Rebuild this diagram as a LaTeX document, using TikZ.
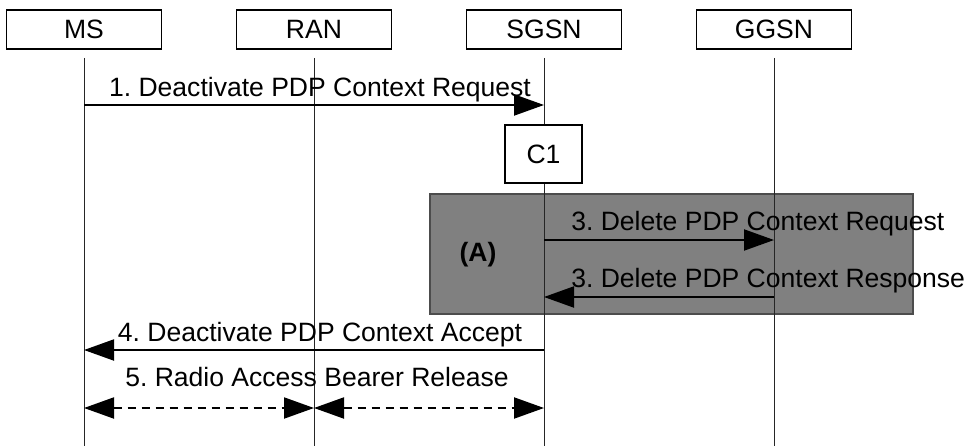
\documentclass[tikz,border=0pt]{standalone}
\usepackage{fontspec}
\setmainfont{Liberation Sans}
\usetikzlibrary{arrows.meta,positioning,calc}

\begin{document}
\frenchspacing
\begin{tikzpicture}[>={Triangle[length=22.5pt,width=15.75pt]},x=0.75pt,y=0.75pt,
 font=\fontsize{19.9pt}{23pt}\selectfont,
 hdr/.style={draw,line width=1.2pt,minimum width=116.25pt,minimum height=29.25pt,inner sep=0pt},
 proc/.style={draw,line width=1.2pt,fill=white,minimum width=57.75pt,minimum height=43.5pt,inner sep=0pt},
 region/.style={draw=black!70,line width=1.2pt,fill=black!50,minimum width=362.25pt,minimum height=90pt,inner sep=0pt},
 life/.style={line width=0.75pt,black!85},
 msg/.style={->,line width=1.5pt},
 rab/.style={<->,line width=1.5pt,dash pattern=on 6pt off 4.5pt},
 lab/.style={inner sep=0pt,text depth=0pt}]
\useasboundingbox (0,0) rectangle (967,-446);
% entities
\node[hdr] (ms) at (84,-29.5) {MS};
\node[hdr] (ran) at (314,-29.5) {RAN};
\node[hdr] (sgsn) at (544,-29.5) {SGSN};
\node[hdr] (ggsn) at (774,-29.5) {GGSN};
\coordinate (bot) at (0,-446);
% grey area (A)
\node[region] (grpA) at (671.5,-254) {};
\node[lab,font=\fontsize{19.9pt}{23pt}\selectfont\bfseries] (lblA) at (478,-252) {(A)};
% lifelines
\foreach \n in {ms,ran,sgsn,ggsn}
  \draw[life] ([yshift=-6pt]\n.south) -- (\n |- bot);
\node[proc] (c1) at (543.5,-154) {C1};
% message rows
\coordinate (m1) at (0,-105);
\coordinate (m3a) at (0,-240);
\coordinate (m3b) at (0,-297);
\coordinate (m4) at (0,-350);
\coordinate (m5) at (0,-408);
\draw[msg] (ms |- m1) -- (sgsn |- m1);
\draw[msg] (sgsn |- m3a) -- (ggsn |- m3a);
\draw[msg] (ggsn |- m3b) -- (sgsn |- m3b);
\draw[msg] (sgsn |- m4) -- (ms |- m4);
\draw[rab] (ms |- m5) -- (ran |- m5);
\draw[rab] (ran |- m5) -- (sgsn |- m5);
% labels
\node[lab,anchor=base] (t1) at (320,-96) {1. Deactivate PDP Context Request};
\node[lab,anchor=base west] (t3a) at (571,-230) {3. Delete PDP Context Request};
\node[lab,anchor=base west] (t3b) at (571,-287) {3. Delete PDP Context Response};
\node[lab,anchor=base] (t4) at (320,-341) {4. Deactivate PDP Context Accept};
\node[lab,anchor=base] (t5) at (317,-386) {5. Radio Access Bearer Release};
\end{tikzpicture}
\end{document}
